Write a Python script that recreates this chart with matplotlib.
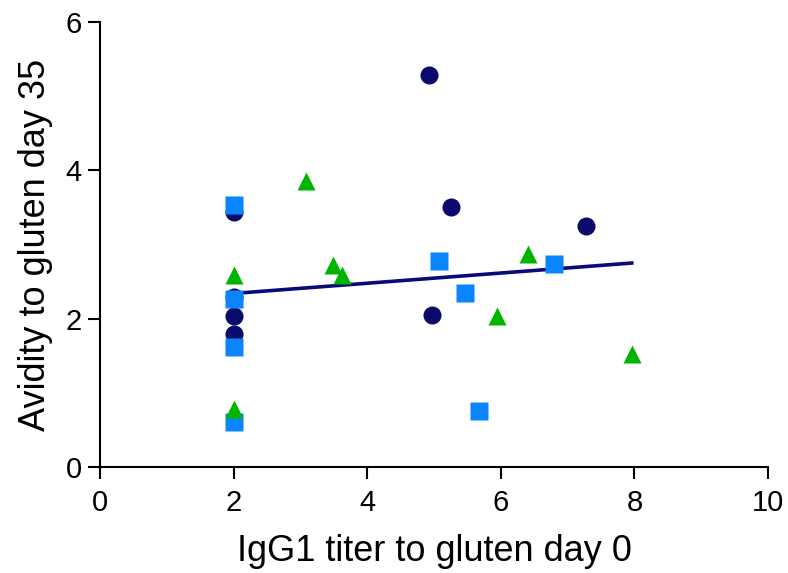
import matplotlib
matplotlib.use("Agg")
import matplotlib.pyplot as plt

plt.rcParams['font.family'] = ['Liberation Sans', 'DejaVu Sans']

# Data
circle_x = [2.0, 2.0, 2.0, 2.0, 4.93, 5.25, 7.28, 4.97]
circle_y = [3.44, 2.29, 2.03, 1.80, 5.29, 3.50, 3.25, 2.05]

square_x = [2.0, 2.0, 2.0, 2.0, 5.08, 6.80, 5.47, 5.68]
square_y = [3.53, 2.27, 1.62, 0.61, 2.78, 2.74, 2.35, 0.75]

triangle_x = [2.0, 2.0, 3.08, 6.41, 3.49, 3.62, 5.95, 7.97]
triangle_y = [2.59, 0.78, 3.85, 2.87, 2.72, 2.59, 2.03, 1.52]

fit_x = [2.0, 7.96]
fit_y = [2.34, 2.75]

x_ticks = [0, 2, 4, 6, 8, 10]
y_ticks = [0, 2, 4, 6]

fig = plt.figure(figsize=(7.88, 5.73), dpi=100)
ax = fig.add_axes([100/788, 1-467/573, 668/788, 445/573])

ax.plot(fit_x, fit_y, color='#0a0a78', lw=2.6, zorder=2)
ax.plot(circle_x, circle_y, 'o', color='#0b0b6e', ms=13, mec='none', zorder=3, clip_on=False)
ax.plot(square_x, square_y, 's', color='#0a85ff', ms=13, mec='none', zorder=4, clip_on=False)
ax.plot(triangle_x, triangle_y, '^', color='#00b400', ms=13, mec='none', zorder=5, clip_on=False)

ax.set_xlim(0, 10)
ax.set_ylim(0, 6)
ax.set_xticks(x_ticks)
ax.set_yticks(y_ticks)
ax.spines['top'].set_visible(False)
ax.spines['right'].set_visible(False)
for s in ['left', 'bottom']:
    ax.spines[s].set_linewidth(1.5)
ax.tick_params(direction='out', length=8.5, width=1.5, labelsize=21)
ax.tick_params(axis='x', pad=7.5)
ax.tick_params(axis='y', pad=4.5)

ax.set_xlabel('IgG1 titer to gluten day 0', fontsize=26, labelpad=12)
ax.set_ylabel('Avidity to gluten day 35', fontsize=26, labelpad=9)

fig.savefig('out.png', dpi=100)
